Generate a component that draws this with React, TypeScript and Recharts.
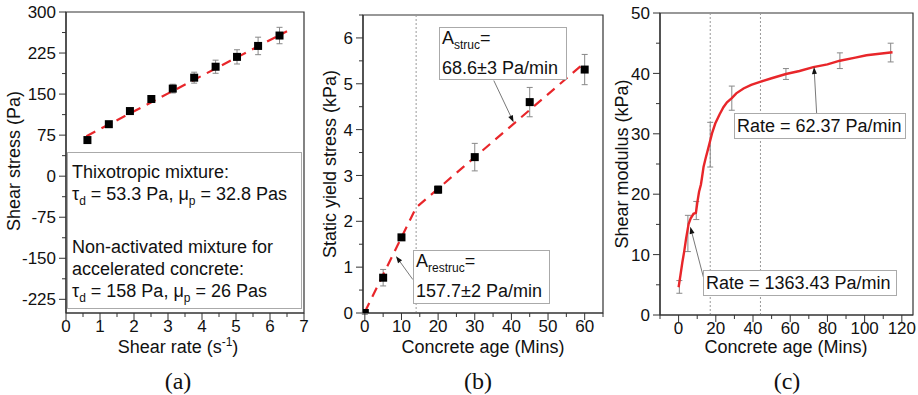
import React from "react";
import {
  ComposedChart,
  Line,
  Scatter,
  XAxis,
  YAxis,
  ErrorBar,
  ReferenceLine,
  ReferenceArea,
} from "recharts";

// (a) shear stress vs shear rate
const rateA = [0.63, 1.26, 1.88, 2.51, 3.14, 3.77, 4.4, 5.03, 5.65, 6.28];
const stressA = [66, 95, 119, 141, 160, 180, 200, 218, 238, 257];
const stressErrA = [3, 3, 4, 6, 8, 10, 12, 13, 16, 15];
const fitRateA = [0.6, 6.5];
const fitStressA = [73, 265];
const xTicksA = [0, 0.5, 1, 1.5, 2, 2.5, 3, 3.5, 4, 4.5, 5, 5.5, 6, 6.5, 7];
const yTicksA = [-225, -187.5, -150, -112.5, -75, -37.5, 0, 37.5, 75, 112.5, 150, 187.5, 225, 262.5, 300];

// (b) static yield stress vs concrete age
const ageB = [0, 5, 10, 20, 30, 45, 60];
const yieldB = [0, 0.77, 1.65, 2.69, 3.4, 4.6, 5.31];
const yieldErrB = [0.03, 0.18, 0.04, 0.08, 0.3, 0.32, 0.33];
const fitAgeB = [0, 14, 60];
const fitYieldB = [0.02, 2.3, 5.46];
const xTicksB = [0, 5, 10, 15, 20, 25, 30, 35, 40, 45, 50, 55, 60, 65];
const yTicksB = [0, 0.5, 1, 1.5, 2, 2.5, 3, 3.5, 4, 4.5, 5, 5.5, 6, 6.5];

// (c) shear modulus vs concrete age
const ageC = [0, 1, 2, 3, 4, 5.4, 6.5, 8, 9.3, 10.2, 11, 12, 12.5, 13.4, 14.5, 16.1, 17, 18, 19.7, 22, 24.1, 26, 28.6, 31, 34.9, 39, 43.8, 50, 57.7, 65, 72.4, 80, 86.7, 95, 101, 108, 115];
const modulusC = [4.6, 6.6, 8.7, 10.5, 12.6, 15.1, 16.0, 16.75, 16.9, 18.9, 20.4, 21.6, 22.6, 24.5, 25.9, 27.8, 28.9, 30.1, 31.7, 33.2, 34.4, 35.2, 35.9, 36.7, 37.5, 38.1, 38.6, 39.2, 39.9, 40.4, 41.05, 41.5, 42.1, 42.6, 43.0, 43.25, 43.5];
const errAgeC = [0.4, 5, 9.5, 17, 28.6, 57.7, 86.7, 114];
const errModC = [4.65, 13.5, 17.3, 28.2, 35.9, 39.9, 42.1, 43.45];
const errSpanC = [1.05, 3, 1.5, 3.7, 2, 0.9, 1.3, 1.55];
const xTicksC = [-10, 0, 10, 20, 30, 40, 50, 60, 70, 80, 90, 100, 110, 120];
const yTicksC = [0, 5, 10, 15, 20, 25, 30, 35, 40, 45, 50];

const ptsA = rateA.map((x, i) => ({ x, y: stressA[i], err: stressErrA[i] }));
const fitA = fitRateA.map((x, i) => ({ x, y: fitStressA[i] }));
const ptsB = ageB.map((x, i) => ({ x, y: yieldB[i], err: yieldErrB[i] }));
const fitB = fitAgeB.map((x, i) => ({ x, y: fitYieldB[i] }));
const curveC = ageC.map((x, i) => ({ x, y: modulusC[i] }));
const barsC = errAgeC.map((x, i) => ({ x, y: errModC[i], err: errSpanC[i] }));

const SANS = "'Liberation Sans', Arial, sans-serif";
const SERIF = "'Liberation Serif', 'Times New Roman', serif";
const RED = "#e8262a";
const AXIS = "#333";

const isMajor = (v: number, step: number) =>
  Math.abs(v / step - Math.round(v / step)) < 1e-6;

const LeftTick = ({ x, y, payload, step }: any) => {
  const major = isMajor(payload.value, step);
  return (
    <g>
      <line x1={x} x2={x - (major ? 7 : 4)} y1={y} y2={y} stroke={AXIS} />
      {major && (
        <text x={x - 10} y={y} dy="0.36em" textAnchor="end" fontSize={17} fontFamily={SANS} fill="#111">
          {payload.value}
        </text>
      )}
    </g>
  );
};

const BottomTick = ({ x, y, payload, step, hideBelow }: any) => {
  const major = isMajor(payload.value, step) && !(hideBelow !== undefined && payload.value < hideBelow);
  return (
    <g>
      <line x1={x} x2={x} y1={y} y2={y + (major ? 7 : 4)} stroke={AXIS} />
      {major && (
        <text x={x} y={y + 19} textAnchor="middle" fontSize={17} fontFamily={SANS} fill="#111">
          {payload.value}
        </text>
      )}
    </g>
  );
};

const Square = (p: any) => <rect x={p.cx - 4} y={p.cy - 4} width={8} height={8} fill="#000" />;
const Empty = () => <g />;

const Arrow = (p: any) => {
  const { x1, y1, x2, y2 } = p;
  const a = Math.atan2(y2 - y1, x2 - x1);
  const L = 7;
  const W = 2.5;
  const bx = x2 - L * Math.cos(a);
  const by = y2 - L * Math.sin(a);
  const pts = `${x2},${y2} ${bx - W * Math.sin(a)},${by + W * Math.cos(a)} ${bx + W * Math.sin(a)},${by - W * Math.cos(a)}`;
  return (
    <g>
      <line x1={x1} y1={y1} x2={bx} y2={by} stroke="#555" strokeWidth={0.8} />
      <polygon points={pts} fill="#111" />
    </g>
  );
};

const abs = (left: number, top: number, extra: React.CSSProperties = {}): React.CSSProperties => ({
  position: "absolute",
  left,
  top,
  whiteSpace: "nowrap",
  ...extra,
});

const YTitle = ({ cx, cy, children }: any) => (
  <div style={abs(cx, cy, { transform: "translate(-50%, -50%) rotate(-90deg)", fontSize: 18, fontFamily: SANS, lineHeight: 1 })}>
    {children}
  </div>
);

const Center = ({ cx, cy, size = 18, family = SANS, children }: any) => (
  <div style={abs(cx, cy, { transform: "translate(-50%, -50%)", fontSize: size, fontFamily: family, lineHeight: 1 })}>
    {children}
  </div>
);

const TextLine = ({ x, cy, children }: any) => (
  <div style={abs(x, cy, { transform: "translateY(-50%)", fontSize: 18, fontFamily: SANS, lineHeight: 1 })}>
    {children}
  </div>
);

const sub = { fontSize: 12, verticalAlign: "-0.35em" } as React.CSSProperties;
const box = (left: number, top: number, width: number, height: number): React.CSSProperties => ({
  position: "absolute",
  left,
  top,
  width,
  height,
  border: "1px solid #aaa",
  background: "#fff",
  boxSizing: "border-box",
});

export default function App() {
  const axisCommon = {
    type: "number" as const,
    dataKey: "y",
    tickLine: false,
    tickSize: 0,
    tickMargin: 0,
    interval: 0 as const,
    axisLine: { stroke: AXIS, strokeWidth: 1.2 },
    allowDataOverflow: true,
  };
  const xCommon = { ...axisCommon, dataKey: "x", height: 30 };

  return (
    <div style={{ position: "relative", width: 918, height: 395, background: "#fff", color: "#111" }}>
      <style>{`body{margin:0}`}</style>

      {/* (a) */}
      <div style={{ position: "absolute", left: 0, top: 0 }}>
        <ComposedChart width={310} height={395} margin={{ top: 12, right: 6, left: 0, bottom: 52 }}>
          <XAxis {...xCommon} domain={[0, 7]} ticks={xTicksA} tick={(p: any) => <BottomTick {...p} step={1} />} />
          <YAxis {...axisCommon} width={66} domain={[-250, 300]} ticks={yTicksA} tick={(p: any) => <LeftTick {...p} step={75} />} />
          <ReferenceArea x1={0} x2={7} y1={-250} y2={300} fill="none" stroke={AXIS} strokeWidth={1.2} />
          <Scatter data={ptsA} shape={Square} isAnimationActive={false}>
            <ErrorBar dataKey="err" direction="y" width={3} stroke="#888" strokeWidth={1} />
          </Scatter>
          <Line data={fitA} dataKey="y" stroke={RED} strokeWidth={2.2} strokeDasharray="10 7" dot={false} isAnimationActive={false} />
        </ComposedChart>
      </div>

      {/* (b) */}
      <div style={{ position: "absolute", left: 310, top: 0 }}>
        <ComposedChart width={300} height={395} margin={{ top: 15, right: 7, left: 0, bottom: 52 }}>
          <XAxis {...xCommon} domain={[-0.5, 65]} ticks={xTicksB} tick={(p: any) => <BottomTick {...p} step={10} />} />
          <YAxis {...axisCommon} width={53} domain={[0, 6.5]} ticks={yTicksB} tick={(p: any) => <LeftTick {...p} step={1} />} />
          <ReferenceArea x1={-0.5} x2={65} y1={0} y2={6.5} fill="none" stroke={AXIS} strokeWidth={1.2} />
          <ReferenceLine x={14} stroke="#999" strokeDasharray="2 2" strokeWidth={1} />
          <Scatter data={ptsB} shape={Square} isAnimationActive={false}>
            <ErrorBar dataKey="err" direction="y" width={3} stroke="#888" strokeWidth={1} />
          </Scatter>
          <Line data={fitB} dataKey="y" stroke={RED} strokeWidth={2.2} strokeDasharray="10 7" dot={false} isAnimationActive={false} />
          <ReferenceLine segment={[{ x: 35.2, y: 5.07 }, { x: 40.6, y: 4.16 }]} shape={Arrow} />
          <ReferenceLine segment={[{ x: 13.1, y: 0.73 }, { x: 8.5, y: 1.24 }]} shape={Arrow} />
        </ComposedChart>
      </div>

      {/* (c) */}
      <div style={{ position: "absolute", left: 610, top: 0 }}>
        <ComposedChart width={308} height={395} margin={{ top: 13, right: 5, left: 0, bottom: 50 }}>
          <XAxis {...xCommon} domain={[-10, 126]} ticks={xTicksC} tick={(p: any) => <BottomTick {...p} step={20} hideBelow={0} />} />
          <YAxis {...axisCommon} width={50} domain={[0, 50]} ticks={yTicksC} tick={(p: any) => <LeftTick {...p} step={10} />} />
          <ReferenceArea x1={-10} x2={126} y1={0} y2={50} fill="none" stroke={AXIS} strokeWidth={1.2} />
          <ReferenceLine x={17} stroke="#999" strokeDasharray="2 2" strokeWidth={1} />
          <ReferenceLine x={44} stroke="#999" strokeDasharray="2 2" strokeWidth={1} />
          <Scatter data={barsC} shape={Empty} isAnimationActive={false}>
            <ErrorBar dataKey="err" direction="y" width={3} stroke="#888" strokeWidth={1} />
          </Scatter>
          <Line data={curveC} dataKey="y" stroke={RED} strokeWidth={2.4} dot={false} isAnimationActive={false} />
          <ReferenceLine segment={[{ x: 74.2, y: 33.4 }, { x: 72.8, y: 41.06 }]} shape={Arrow} />
          <ReferenceLine segment={[{ x: 13.4, y: 6.2 }, { x: 6.3, y: 14.6 }]} shape={Arrow} />
        </ComposedChart>
      </div>

      {/* axis titles and captions */}
      <YTitle cx={14} cy={161}>Shear stress (Pa)</YTitle>
      <YTitle cx={330} cy={164}>Static yield stress (kPa)</YTitle>
      <YTitle cx={622} cy={164}>Shear modulus (kPa)</YTitle>
      <Center cx={178} cy={347}>
        Shear rate (s<sup style={{ fontSize: 12, lineHeight: 0 }}>-1</sup>)
      </Center>
      <Center cx={483} cy={347}>Concrete age (Mins)</Center>
      <Center cx={786} cy={347}>Concrete age (Mins)</Center>
      <Center cx={178} cy={381} size={24} family={SERIF}>(a)</Center>
      <Center cx={478} cy={381} size={24} family={SERIF}>(b)</Center>
      <Center cx={787} cy={381} size={24} family={SERIF}>(c)</Center>

      {/* annotation boxes */}
      <div style={box(67, 152, 235, 157)} />
      <TextLine x={72} cy={172}>Thixotropic mixture:</TextLine>
      <TextLine x={72} cy={196}>
        τ<span style={sub}>d</span> = 53.3 Pa, μ<span style={sub}>p</span> = 32.8 Pas
      </TextLine>
      <TextLine x={72} cy={247}>Non-activated mixture for</TextLine>
      <TextLine x={72} cy={269}>accelerated concrete:</TextLine>
      <TextLine x={72} cy={293}>
        τ<span style={sub}>d</span> = 158 Pa, μ<span style={sub}>p</span> = 26 Pas
      </TextLine>

      <div style={box(439, 27, 128, 53)} />
      <TextLine x={442} cy={40}>
        A<span style={sub}>struc</span>=
      </TextLine>
      <TextLine x={442} cy={68}>68.6±3 Pa/min</TextLine>

      <div style={box(413, 250, 137, 54)} />
      <TextLine x={416} cy={263}>
        A<span style={sub}>restruc</span>=
      </TextLine>
      <TextLine x={416} cy={291}>157.7±2 Pa/min</TextLine>

      <div style={box(734, 113, 172, 26)} />
      <TextLine x={737} cy={126}>Rate = 62.37 Pa/min</TextLine>

      <div style={box(703, 270, 194, 26)} />
      <TextLine x={706} cy={283}>Rate = 1363.43 Pa/min</TextLine>
    </div>
  );
}
